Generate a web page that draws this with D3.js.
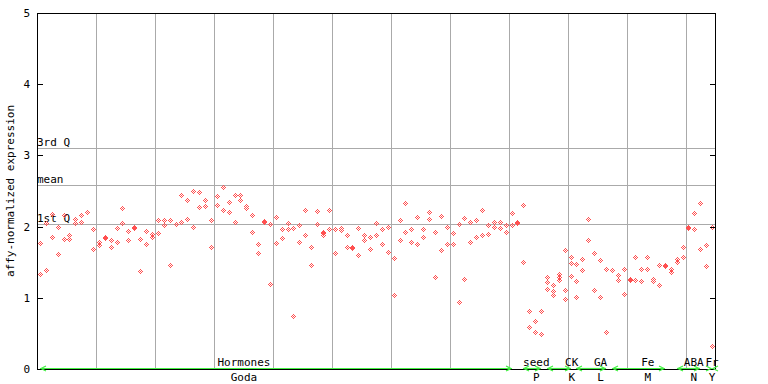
<!DOCTYPE html>
<html><head><meta charset="utf-8">
<script src="https://cdn.jsdelivr.net/npm/d3@7"></script>
<style>
body{margin:0;background:#fff}
svg{display:block}
text{font-family:"DejaVu Sans Mono",monospace;font-size:11px;fill:#000}
</style>
</head><body>
<svg id="c" width="768" height="384"></svg>
<script>
// ---- data ----
const sampleIndex = d3.range(115);
const sampleValues = [
 [1.77,1.34],[2.05,1.39],[2.17,1.85],[2.00,1.61],[2.16,1.82],[1.88,1.82],[2.10,2.05],[2.16,2.07],[2.20],[1.96,1.68],
 [1.79,1.74],[1.85,1.836],[1.81,1.71],[1.98,1.78],[2.26,2.05],[1.94,1.81],[1.99,1.976],[1.82,1.37],[1.94,1.75],[1.89,1.85],
 [2.09,1.91],[2.09,2.02],[2.09,1.46],[2.03],[2.44,2.07],[2.38,2.10],[2.50,1.99],[2.48,2.27],[2.38,2.29],[2.09,1.72],
 [2.43,2.31],[2.55,2.24],[2.34,2.20],[2.45,2.07],[2.45,2.37],[2.29,2.26],[2.16,1.93],[1.75,1.63],[2.08,2.066],[2.03,1.20],
 [2.14,1.77],[1.96,1.84],[2.05,1.96],[1.98,0.74],[2.02,1.78],[2.23,1.88],[1.72,1.46],[2.22,2.03],[1.92,1.906,1.88],[2.23,1.96],
 [1.96,1.63],[1.98,1.95],[1.88,1.72],[1.72,1.706],[1.98,1.60],[1.88,1.81],[1.85,1.68],[2.05,1.88],[1.96,1.75],[2.00,1.65],
 [1.56,1.04],[2.09,1.81],[2.33,1.93],[1.96,1.78],[2.13,1.75],[1.96,1.86],[2.20,2.10],[1.92,1.29],[2.15,1.67],[2.00,1.75],
 [1.91,1.75],[2.03,0.94],[2.12,1.27],[2.07,1.79],[2.09,1.86],[2.24,1.88],[2.02,1.89],[2.07,1.99],[2.06,1.98],[2.02,1.93],
 [2.19,2.02],[2.07,2.056],[2.31,1.50],[0.82,0.59],[0.67,0.52],[0.81,0.49],[1.29,1.22,1.12],[1.18,1.09,1.04],[1.33,1.29,1.25],[1.67,1.11,0.99],
 [1.57,1.49,1.30],[1.47,1.23,1.01],[1.54,1.39],[2.10,1.81],[1.63,1.11],[1.53,1.01],[1.41,0.52],[1.39],[1.32,1.25],[1.41,1.05],
 [1.27,1.256],[1.57,1.25],[1.41,1.23],[1.58,1.40],[1.27,1.23],[1.46,1.18],[1.465,1.45],[1.41,1.36],[1.54,1.50],[1.72,1.58],
 [1.99,1.976],[2.19,1.96],[2.33,1.68],[1.74,1.44],[2.00,0.33]
];
const refNames  = ["3rd Q","mean","1st Q"];
const refValues = [3.10, 2.58, 2.04];
const groupNames   = ["Hormones","seed","CK","GA","Fe","ABA","Fr"];
const groupCodes   = ["Goda","P","K","L","M","N","Y"];
const groupStart   = [0, 82, 86, 91, 97, 108, 114];
const groupEnd     = [80, 85, 90, 96, 106, 112, 114];
const groupLabelAt = [34.6, 84.2, 90.2, 95.1, 103.1, 110.9, 114];
const yTicks = [0,1,2,3,4,5];
const yTitle = "affy-normalized expression";
const gridEvery = 10;

// ---- layout ----
const L = 37, R = 715, T = 13, B = 369;
const svg = d3.select("#c");
const x = d3.scaleBand().domain(sampleIndex).range([L, R]);
const y = d3.scaleLinear().domain([0,5]).range([B, T]);
const cx = i => x(i) + x.bandwidth()/2;
const red = "#ff5050", green = "#44f044", grid = "#aaaaaa";

// vertical grid lines
const gx = sampleIndex.filter(i => i > 0 && i % gridEvery === 0);
svg.append("g").selectAll("line").data(gx).join("line")
  .attr("x1", i => Math.round(x(i)) + 0.5).attr("x2", i => Math.round(x(i)) + 0.5)
  .attr("y1", T).attr("y2", B)
  .attr("stroke", grid).attr("stroke-width", 1);

// reference lines
svg.append("g").selectAll("line").data(refValues).join("line")
  .attr("x1", L).attr("x2", R)
  .attr("y1", v => Math.round(y(v)) + 0.5).attr("y2", v => Math.round(y(v)) + 0.5)
  .attr("stroke", grid).attr("stroke-width", 1);
svg.append("g").selectAll("text").data(refValues).join("text")
  .attr("x", L).attr("y", v => Math.round(y(v)) - 2)
  .text((v, i) => refNames[i]);

// points (pixel checker diamonds)
const pts = [];
sampleValues.forEach((vals, i) => vals.forEach(v => pts.push({i, v})));
const offs = [[0,-2],[-1,-1],[1,-1],[-2,0],[0,0],[2,0],[-1,1],[1,1],[0,2]];
svg.append("g").selectAll("path").data(pts).join("path")
  .attr("d", d => {
    const px = Math.round(cx(d.i)), py = Math.round(y(d.v));
    return offs.map(o => `M${px+o[0]},${py+o[1]}h1v1h-1z`).join("");
  })
  .attr("fill", red).attr("shape-rendering", "crispEdges");

// axes frame
const ax = svg.append("g").attr("stroke", "#000").attr("stroke-width", 1).attr("shape-rendering","crispEdges");
ax.append("line").attr("x1", L+0.5).attr("x2", L+0.5).attr("y1", T).attr("y2", B+1);
ax.append("line").attr("x1", R+0.5).attr("x2", R+0.5).attr("y1", T).attr("y2", B+1);
ax.append("line").attr("x1", L).attr("x2", R+1).attr("y1", T+0.5).attr("y2", T+0.5);
ax.append("line").attr("x1", L).attr("x2", R+1).attr("y1", B+0.5).attr("y2", B+0.5);
ax.selectAll(".tl").data(yTicks).join("line")
  .attr("x1", L).attr("x2", L+6)
  .attr("y1", v => Math.round(y(v))+0.5).attr("y2", v => Math.round(y(v))+0.5);
ax.selectAll(".tr").data(yTicks).join("line")
  .attr("x1", R-5).attr("x2", R)
  .attr("y1", v => Math.round(y(v))+0.5).attr("y2", v => Math.round(y(v))+0.5);
svg.append("g").selectAll("text").data(yTicks).join("text")
  .attr("x", 30).attr("y", v => y(v) + 4).attr("text-anchor", "end").text(d => d);
svg.append("text").attr("transform", `translate(14,${(T+B)/2}) rotate(-90)`)
  .attr("text-anchor", "middle").text(yTitle);

// group arrows and labels
const ga = svg.append("g").attr("stroke", green).attr("fill", "none").attr("stroke-width", 1.2);
groupNames.forEach((g, k) => {
  const x0 = Math.round(cx(groupStart[k])), x1 = Math.round(cx(groupEnd[k]));
  ga.append("line").attr("x1", x0).attr("x2", x1).attr("y1", B-0.5).attr("y2", B-0.5);
  ga.append("polyline").attr("points", `${x0+6},${B-3} ${x0+1},${B-0.5} ${x0+6},${B+2}`);
  ga.append("polyline").attr("points", `${x1-6},${B-3} ${x1-1},${B-0.5} ${x1-6},${B+2}`);
});
svg.append("g").selectAll("text").data(groupNames).join("text")
  .attr("x", (d, k) => cx(0) + (groupLabelAt[k]) * x.step())
  .attr("y", B - 3).attr("text-anchor", "middle").text(d => d);
svg.append("g").selectAll("text").data(groupCodes).join("text")
  .attr("x", (d, k) => cx(0) + (groupLabelAt[k]) * x.step())
  .attr("y", B + 12).attr("text-anchor", "middle").text(d => d);
</script>
</body></html>
